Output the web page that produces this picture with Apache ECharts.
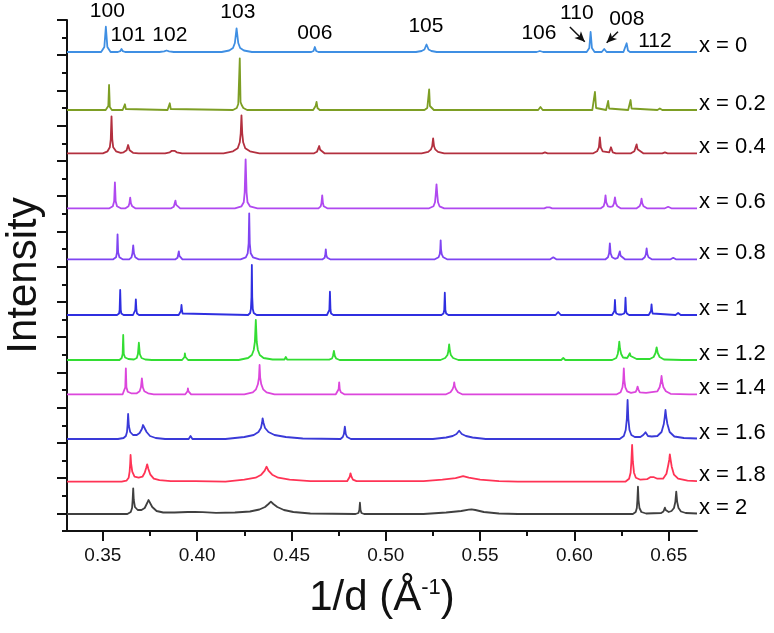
<!DOCTYPE html>
<html>
<head>
<meta charset="utf-8">
<script src="https://cdn.jsdelivr.net/npm/echarts@6/dist/echarts.min.js"></script>
<style>html,body{margin:0;padding:0;background:#fff}#c{width:774px;height:633px}</style>
</head>
<body>
<div id="c"></div>
<script>
// ---- data (x in 1/d, y = intensity above each pattern's baseline, arbitrary units) ----
const seriesNames = ['x = 0','x = 0.2','x = 0.4','x = 0.6','x = 0.8','x = 1','x = 1.2','x = 1.4','x = 1.6','x = 1.8','x = 2'];
const offsets = [479, 421, 377.7, 322.7, 271.7, 216, 171, 136.7, 92, 49.3, 17];
const colors = ['#3f8fe3','#7d9e24','#b3303f','#b049f0','#7f44f2','#2f2fe0','#33dd33','#dc46dc','#3a3ad8','#ff3355','#404040'];

const s0 = [[0.331,0],
[0.3491,0],[0.3508,5],[0.3516,25.3],[0.3524,5],[0.3541,0],
[0.3580,0],[0.3592,0.8],[0.3599,3],[0.3606,0.8],[0.3618,0],
[0.3800,0],[0.3825,0.6],[0.3838,1.5],[0.3851,0.6],[0.3876,0],
[0.4130,0],[0.4170,1.5],[0.4190,4],[0.4200,9],[0.4209,23.7],[0.4218,9],[0.4228,4],[0.4248,1.5],[0.4290,0],
[0.4605,0],[0.4617,1],[0.4624,5],[0.4631,1],[0.4643,0],
[0.5160,0],[0.5190,1],[0.5205,2.5],[0.5216,7.5],[0.5227,2.5],[0.5242,1],[0.5270,0],
[0.5800,0],[0.5817,1],[0.5834,0],
[0.6065,0],[0.6079,4],[0.6086,20],[0.6093,4],[0.6107,0],
[0.6145,0],[0.6158,3],[0.6171,0],
[0.6260,0],[0.6270,1.5],[0.6277,8.7],[0.6284,1.5],[0.6295,0],
[0.665,0]];

const s1 = [[0.331,0],
[0.3515,0],[0.3525,2],[0.3529,4],[0.3533,25],[0.3537,3],[0.3548,0],
[0.3605,0],[0.3612,1],[0.3617,5.7],[0.3622,1],[0.3630,0],
[0.3843,0],[0.3850,1],[0.3855,6.7],[0.3860,1],[0.3868,0],
[0.4190,0],[0.4210,2],[0.4218,6],[0.4222,8],[0.4226,51.7],[0.4230,8],[0.4236,5],[0.4245,2],[0.4265,0],
[0.4615,0],[0.4625,2],[0.4628,4],[0.4633,8],[0.4638,2],[0.4650,0],
[0.5205,0],[0.5220,2],[0.5226,4],[0.5230,20.7],[0.5234,4],[0.5240,2],[0.5255,0],
[0.5808,0],[0.5815,1],[0.5820,3],[0.5825,1],[0.5832,0],
[0.6095,0],[0.6103,2],[0.6109,18],[0.6115,2],[0.6125,0],
[0.6168,0],[0.6175,1.5],[0.6179,9],[0.6184,1.5],[0.6190,0],
[0.6285,0],[0.6293,1.5],[0.6298,10],[0.6303,1.5],[0.6312,0],
[0.6440,0],[0.6453,1.5],[0.6466,0],
[0.665,0]];

const s2 = [[0.331,0],
[0.3500,0],[0.3525,2],[0.3537,6],[0.3542,14],[0.3546,37],[0.3550,14],[0.3555,6],[0.3570,2],[0.3595,0.5],
[0.3610,1],[0.3626,3],[0.3634,8.3],[0.3642,3],[0.3660,0.5],[0.3690,0],
[0.3830,0],[0.3855,1],[0.3866,2.5],[0.3873,4.3],[0.3880,2.5],[0.3892,1],[0.3920,0],
[0.4140,0],[0.4190,2],[0.4215,5],[0.4226,11],[0.4231,20],[0.4235,38],[0.4239,20],[0.4244,11],[0.4255,5],[0.4280,2],[0.4330,0],
[0.4620,0],[0.4635,1.5],[0.4642,3.5],[0.4647,7.3],[0.4652,3.5],[0.4659,1.5],[0.4675,0],
[0.5190,0],[0.5225,1.5],[0.5240,4],[0.5246,7],[0.5251,15],[0.5256,7],[0.5262,4],[0.5277,1.5],[0.5310,0],
[0.5830,0],[0.5844,1],[0.5858,0],
[0.6100,0],[0.6120,2],[0.6130,6],[0.6135,16],[0.6140,6],[0.6150,2],[0.6185,1],[0.6194,6],[0.6203,1],[0.6220,0],
[0.6300,0],[0.6318,2],[0.6325,4],[0.6330,9],[0.6335,4],[0.6342,2],[0.6365,0],
[0.6466,0],[0.6480,1],[0.6494,0],
[0.665,0]];

const s3 = [[0.331,0],
[0.3535,0],[0.3553,2],[0.3560,7],[0.3564,26],[0.3568,7],[0.3575,2],[0.3595,0],
[0.3620,0],[0.3636,2],[0.3641,5],[0.3645,10.7],[0.3649,5],[0.3656,2],[0.3672,0],
[0.3862,0],[0.3876,1.5],[0.3881,3.5],[0.3885,7.7],[0.3889,3.5],[0.3894,1.5],[0.3910,0],
[0.4200,0],[0.4235,2],[0.4247,6],[0.4252,16],[0.4257,49],[0.4262,16],[0.4267,6],[0.4280,2],[0.4320,0],
[0.4643,0],[0.4655,2],[0.4659,5],[0.4663,13],[0.4667,5],[0.4671,2],[0.4690,0],[0.4720,0],[0.4725,1],[0.4730,0],
[0.5230,0],[0.5253,2],[0.5261,6],[0.5265,14],[0.5269,24],[0.5273,14],[0.5277,6],[0.5285,2],[0.5310,0],
[0.5840,0],[0.5853,1],[0.5861,2.5],[0.5869,1],[0.5882,0],
[0.6140,0],[0.6155,2],[0.6161,6],[0.6165,13],[0.6169,6],[0.6178,2],[0.6190,1.5],[0.6203,2],[0.6210,5],[0.6215,11],[0.6220,5],[0.6228,2],[0.6245,0],
[0.6330,0],[0.6345,2],[0.6352,5],[0.6356,9.7],[0.6360,5],[0.6367,2],[0.6385,0],
[0.6480,0],[0.6497,1.5],[0.6514,0],
[0.665,0]];

const s4 = [[0.331,0],
[0.3555,0],[0.3570,2],[0.3575,7],[0.3578,25],[0.3581,7],[0.3588,2],[0.3605,0],
[0.3640,0],[0.3652,2],[0.3657,6],[0.3661,14],[0.3665,6],[0.3672,2],[0.3688,0],
[0.3885,0],[0.3896,1.5],[0.3900,3.5],[0.3903,8],[0.3906,3.5],[0.3910,1.5],[0.3922,0],
[0.4230,0],[0.4258,2],[0.4268,6],[0.4273,16],[0.4276,46],[0.4279,16],[0.4284,6],[0.4296,2],[0.4330,0],
[0.4665,0],[0.4676,1.5],[0.4679,4],[0.4682,10],[0.4685,4],[0.4690,1.5],[0.4705,0],[0.4742,0],[0.4748,1],[0.4754,0],
[0.5260,0],[0.5280,2],[0.5286,5],[0.5289,10],[0.5291,19],[0.5293,10],[0.5297,5],[0.5305,2],[0.5325,0],
[0.5872,0],[0.5882,0.8],[0.5888,2],[0.5894,0.8],[0.5904,0],
[0.6165,0],[0.6178,2],[0.6184,6],[0.6188,16],[0.6192,6],[0.6200,2],[0.6215,0.5],[0.6230,1.5],[0.6237,3.5],[0.6241,8],[0.6245,3.5],[0.6252,1.5],[0.6268,0],
[0.6360,0],[0.6373,2],[0.6379,5],[0.6383,11],[0.6387,5],[0.6393,2],[0.6410,0],
[0.6510,0],[0.6524,1.5],[0.6538,0],
[0.665,0]];

const s5 = [[0.331,0],
[0.3575,0],[0.3586,1.5],[0.3589,5],[0.3592,25],[0.3595,5],[0.3598,1.5],[0.3610,0],
[0.3660,0],[0.3669,1.5],[0.3672,5],[0.3675,15.7],[0.3678,5],[0.3681,1.5],[0.3692,0],
[0.3902,0],[0.3911,1.5],[0.3914,4],[0.3917,10],[0.3920,4],[0.3923,1.5],[0.3933,0],
[0.4270,0],[0.4281,2],[0.4285,6],[0.4288,18],[0.4290,50],[0.4292,18],[0.4295,6],[0.4300,2],[0.4315,0],
[0.4688,0],[0.4698,1.5],[0.4701,5],[0.4704,23.3],[0.4707,5],[0.4710,1.5],[0.4722,0],[0.4760,0],[0.4766,1],[0.4772,0],
[0.5295,0],[0.5306,1.5],[0.5310,5],[0.5313,22.3],[0.5316,5],[0.5320,1.5],[0.5332,0],
[0.5900,0],[0.5910,1],[0.5914,3],[0.5918,1],[0.5928,0],
[0.6200,0],[0.6209,1.5],[0.6212,4],[0.6215,15],[0.6218,4],[0.6222,1.5],[0.6235,0.5],[0.6250,0.5],[0.6264,1.5],[0.6268,4],[0.6271,17.3],[0.6274,4],[0.6278,1.5],[0.6290,0],
[0.6394,0],[0.6403,1.5],[0.6406,4],[0.6409,10.7],[0.6412,4],[0.6415,1.5],[0.6425,0],
[0.6536,0],[0.6544,0.8],[0.6550,2],[0.6556,0.8],[0.6564,0],
[0.665,0]];

const s6 = [[0.331,0],
[0.3588,0],[0.3600,2],[0.3605,6],[0.3608,25],[0.3611,6],[0.3618,2.5],[0.3635,1],[0.3665,0.5],[0.3680,2],[0.3686,6],[0.3691,17.3],[0.3696,6],[0.3705,2],[0.3725,0.5],[0.3760,0],
[0.3920,0],[0.3930,1.5],[0.3933,3],[0.3935,6.7],[0.3938,3],[0.3941,1.5],[0.3952,0],
[0.4220,0],[0.4270,2],[0.4290,5],[0.4300,10],[0.4306,18],[0.4311,40],[0.4316,18],[0.4322,10],[0.4332,5],[0.4352,2],[0.4400,0.5],
[0.4463,0.5],[0.4470,3],[0.4477,0.5],
[0.4700,0.3],[0.4715,1.5],[0.4720,4],[0.4725,9],[0.4730,4],[0.4737,1.5],[0.4755,0],
[0.5290,0],[0.5315,2],[0.5327,5],[0.5332,9],[0.5336,15.7],[0.5340,9],[0.5345,5],[0.5357,2],[0.5385,0],
[0.5772,0],[0.5782,1],[0.5792,0],
[0.5930,0],[0.5941,2],[0.5952,0],
[0.6200,0],[0.6222,2],[0.6230,6],[0.6234,11],[0.6238,18.3],[0.6242,11],[0.6248,6],[0.6258,2.5],[0.6280,2],[0.6290,4],[0.6294,6.7],[0.6298,4],[0.6306,2],[0.6330,1],
[0.6400,1],[0.6420,3],[0.6430,7],[0.6436,12.7],[0.6442,7],[0.6452,3],[0.6475,0.5],
[0.6572,0],[0.6582,1.5],[0.6592,0],
[0.665,0]];

const s7 = [[0.331,0],
[0.3605,0],[0.3615,2],[0.3619,7],[0.3622,26],[0.3625,7],[0.3632,2.5],[0.3650,1],[0.3680,1],[0.3695,3],[0.3702,7],[0.3707,16],[0.3712,7],[0.3720,3],[0.3740,1],[0.3770,0],
[0.3937,0],[0.3946,1.5],[0.3949,3],[0.3951,6],[0.3954,3],[0.3957,1.5],[0.3968,0],
[0.4250,0],[0.4295,2],[0.4312,5],[0.4322,10],[0.4328,17],[0.4331,29.3],[0.4334,17],[0.4340,10],[0.4350,5],[0.4368,2],[0.4410,0],
[0.4735,0],[0.4745,2],[0.4750,5],[0.4753,12],[0.4756,5],[0.4762,2],[0.4780,0],[0.4805,0],[0.4810,1],[0.4815,0],
[0.5320,0],[0.5343,2],[0.5354,5],[0.5360,8],[0.5363,12],[0.5366,8],[0.5372,5],[0.5383,2],[0.5405,0],
[0.5962,0],[0.5972,2],[0.5982,0],
[0.6225,0],[0.6245,2],[0.6255,7],[0.6259,14],[0.6262,26],[0.6265,14],[0.6270,7],[0.6280,3],[0.6300,1.5],[0.6325,2.5],[0.6331,5],[0.6335,7.7],[0.6339,5],[0.6347,2],[0.6380,1.5],[0.6440,3],[0.6452,7],[0.6458,12],[0.6462,18.3],[0.6466,12],[0.6472,7],[0.6485,3],[0.6510,0.5],
[0.6608,0],[0.6618,1],[0.6628,0],
[0.665,0]];

const s8 = [[0.331,0],
[0.3580,0],[0.3610,1],[0.3622,3],[0.3628,7],[0.3631,14],[0.3634,25],[0.3638,13],[0.3645,7],[0.3660,4],[0.3680,4],[0.3695,6],[0.3707,10],[0.3713,14],[0.3717,16],[0.3722,13],[0.3732,7],[0.3750,3],[0.3780,1],[0.3830,0],
[0.3955,0],[0.3961,1],[0.3965,3],[0.3969,1],[0.3975,0],
[0.4150,0],[0.4250,2],[0.4300,4],[0.4325,7],[0.4338,11],[0.4344,16],[0.4347,20.7],[0.4352,16],[0.4360,11],[0.4378,7],[0.4410,4],[0.4470,2],[0.4560,0.5],
[0.4760,0],[0.4772,2],[0.4778,5],[0.4783,12.3],[0.4788,5],[0.4795,2],[0.4815,0],
[0.5250,0],[0.5320,1.5],[0.5355,3],[0.5375,5],[0.5389,8.3],[0.5403,5],[0.5425,3],[0.5460,1.5],[0.5530,0],
[0.5993,0],[0.6003,2],[0.6013,0],
[0.6240,0],[0.6262,3],[0.6272,9],[0.6278,20],[0.6282,39],[0.6286,20],[0.6292,9],[0.6302,4],[0.6320,2],[0.6350,2],[0.6365,4],[0.6372,5.5],[0.6377,6.7],[0.6382,5.5],[0.6390,3],[0.6410,2.5],[0.6440,3],[0.6462,7],[0.6474,15],[0.6479,22],[0.6483,29],[0.6487,22],[0.6493,15],[0.6505,7],[0.6530,2.5],[0.6580,1],
[0.665,0.5]];

const s9 = [[0.331,0],
[0.3600,0],[0.3625,1],[0.3637,4],[0.3642,10],[0.3645,18],[0.3647,26.7],[0.3650,18],[0.3656,10],[0.3668,5],[0.3690,4],[0.3710,5],[0.3722,9],[0.3730,14],[0.3735,17.4],[0.3741,13],[0.3752,7],[0.3770,3],[0.3800,1.5],[0.3860,0.5],
[0.3975,0.5],[0.3983,1.5],[0.3991,0.5],
[0.4150,0],[0.4250,2],[0.4310,4],[0.4340,7],[0.4358,11],[0.4368,15],[0.4378,11],[0.4398,7],[0.4430,4],[0.4490,2],[0.4600,0.5],
[0.4795,0.5],[0.4803,2],[0.4809,5],[0.4813,8.4],[0.4818,5],[0.4826,2],[0.4845,0.5],
[0.5200,0.5],[0.5300,2],[0.5370,3.5],[0.5410,5.5],[0.5419,5.7],[0.5440,4],[0.5500,2],[0.5600,0.5],[0.5700,0],
[0.6270,0],[0.6290,3],[0.6298,9],[0.6302,20],[0.6306,36.7],[0.6310,20],[0.6316,9],[0.6326,4],[0.6350,2],[0.6385,2.5],[0.6402,4.5],[0.6412,5.7],[0.6422,4.5],[0.6440,3],[0.6470,3],[0.6488,8],[0.6498,17],[0.6503,22],[0.6506,27.4],[0.6510,22],[0.6516,15],[0.6528,7],[0.6550,3],[0.6600,1],
[0.665,0.5]];

const s10 = [[0.331,0],
[0.3630,0],[0.3648,2],[0.3655,6],[0.3658,14],[0.3661,25.7],[0.3664,14],[0.3670,7],[0.3685,4],[0.3705,4],[0.3722,6],[0.3735,11],[0.3742,14],[0.3746,15.7],[0.3751,13],[0.3762,7],[0.3785,3],[0.3820,1.5],
[0.3880,1.5],[0.3950,2],[0.3988,2],[0.4030,1.8],[0.4100,1.2],[0.4200,1.5],
[0.4280,2.5],[0.4330,4.5],[0.4360,7],[0.4378,10],[0.4391,12.3],[0.4404,10],[0.4425,7],[0.4460,4],[0.4510,2],[0.4600,0.5],
[0.4840,0],[0.4855,1],[0.4860,4],[0.4863,11.3],[0.4866,4],[0.4871,1],[0.4885,0],
[0.5200,0],[0.5320,1.5],[0.5400,3],[0.5440,4.3],[0.5455,4.7],[0.5475,4],[0.5520,2],[0.5600,0.5],[0.5700,0],
[0.6310,0],[0.6325,2],[0.6331,6],[0.6334,14],[0.6337,27.3],[0.6340,14],[0.6345,6],[0.6355,2],[0.6380,0.5],
[0.6460,1],[0.6472,2.5],[0.6477,4],[0.6480,6.3],[0.6484,4],[0.6490,2],[0.6500,2],[0.6515,3],[0.6528,6],[0.6535,12],[0.6540,22.3],[0.6545,12],[0.6552,6],[0.6565,2.5],[0.6590,1],
[0.665,0.5]];

const patterns = [s0, s1, s2, s3, s4, s5, s6, s7, s8, s9, s10];

// reflection labels on the top pattern (anchor in data coords)
const hklNames = ['100','101','102','103','006','105','106','110','008','112'];
const hklX = [0.3524, 0.3633, 0.3855, 0.4216, 0.4624, 0.5213, 0.5812, 0.6013, 0.6278, 0.6427];
const hklY = [519.3, 496, 496, 519, 498, 504.3, 497.7, 517.7, 511.7, 489.3];
// arrows [from, to]
const arrows = [[[0.5976, 504], [0.6055, 489.3]], [[0.6231, 499.3], [0.6171, 488.3]]];

const xTickValues = [0.35, 0.40, 0.45, 0.50, 0.55, 0.60, 0.65];
const xMinorValues = [0.375, 0.425, 0.475, 0.525, 0.575, 0.625];
const xMin = 0.331, xMax = 0.665;
const yMin = 0, yMax = 511, yTickCount = 29;

// ---- build ----
const FONT = '"Liberation Sans", Arial, Helvetica, sans-serif';
const yShort = [], yLong = [];
for (let k = 0; k <= yTickCount; k++) {
  const v = yMin + (yMax - yMin) * k / yTickCount;
  (k % 2 === 1 ? yLong : yShort).push(v);
}

const series = patterns.map((pts, i) => ({
  type: 'line',
  name: seriesNames[i],
  xAxisIndex: 0, yAxisIndex: 0,
  data: pts.map(p => [p[0], p[1] + offsets[i]]),
  showSymbol: false,
  symbol: 'none',
  lineStyle: { color: colors[i], width: 1.8, join: 'round' },
  itemStyle: { color: colors[i] },
  z: 3 + i,
  endLabel: {
    show: true,
    formatter: '{a}',
    color: '#000',
    fontSize: 22,
    fontFamily: FONT,
    distance: 2,
    offset: [0, -6]
  },
  silent: true
}));

series.push({
  type: 'scatter',
  xAxisIndex: 0, yAxisIndex: 0,
  clip: false,
  symbolSize: 1,
  itemStyle: { color: 'rgba(0,0,0,0)' },
  data: hklNames.map((n, i) => ({ name: n, value: [hklX[i], hklY[i]] })),
  label: { show: true, position: 'inside', formatter: '{b}', color: '#000', fontSize: 21, fontFamily: FONT,
           textBorderWidth: 0, textBorderColor: 'transparent', opacity: 1 },
  emphasis: { disabled: true },
  silent: true,
  z: 20,
  markLine: {
    silent: true,
    symbol: ['none', 'arrow'],
    symbolSize: [7, 10],
    label: { show: false },
    lineStyle: { color: '#111', width: 1.5, type: 'solid' },
    data: arrows.map(a => [{ coord: a[0] }, { coord: a[1] }])
  }
});

const chart = echarts.init(document.getElementById('c'), null, { renderer: 'canvas' });
chart.setOption({
  animation: false,
  backgroundColor: '#fff',
  grid: { left: 67, right: 77, top: 20, bottom: 102, containLabel: false, outerBoundsMode: 'none' },
  xAxis: [{
    type: 'value', min: xMin, max: xMax, position: 'bottom',
    name: '1/d (Å{sup|-1})', nameLocation: 'middle', nameGap: 46,
    nameTextStyle: { fontSize: 42, fontFamily: FONT, color: '#111',
      rich: { sup: { fontSize: 22, verticalAlign: 'top', padding: [0,0,20,0], fontFamily: FONT, color: '#111' } } },
    axisLine: { show: true, onZero: false, lineStyle: { color: '#111', width: 2 } },
    axisTick: { show: true, customValues: xTickValues, length: 10, lineStyle: { color: '#111', width: 2 } },
    axisLabel: { show: true, customValues: xTickValues, formatter: v => v.toFixed(2), fontSize: 19, fontFamily: FONT, color: '#111', margin: 15 },
    splitLine: { show: false }
  }, {
    type: 'value', min: xMin, max: xMax, position: 'bottom',
    axisLine: { show: false },
    axisTick: { show: true, customValues: xMinorValues, length: 5, lineStyle: { color: '#111', width: 2 } },
    axisLabel: { show: false },
    splitLine: { show: false }
  }],
  yAxis: [{
    type: 'value', min: yMin, max: yMax, position: 'left',
    name: 'Intensity', nameLocation: 'middle', nameGap: 22,
    nameTextStyle: { fontSize: 42, fontFamily: FONT, color: '#111' },
    axisLine: { show: true, onZero: false, lineStyle: { color: '#111', width: 2 } },
    axisTick: { show: true, customValues: yShort, length: 5, lineStyle: { color: '#111', width: 2 } },
    axisLabel: { show: false },
    splitLine: { show: false }
  }, {
    type: 'value', min: yMin, max: yMax, position: 'left',
    axisLine: { show: false },
    axisTick: { show: true, customValues: yLong, length: 10, lineStyle: { color: '#111', width: 2 } },
    axisLabel: { show: false },
    splitLine: { show: false }
  }],
  series: series
});
</script>
</body>
</html>
